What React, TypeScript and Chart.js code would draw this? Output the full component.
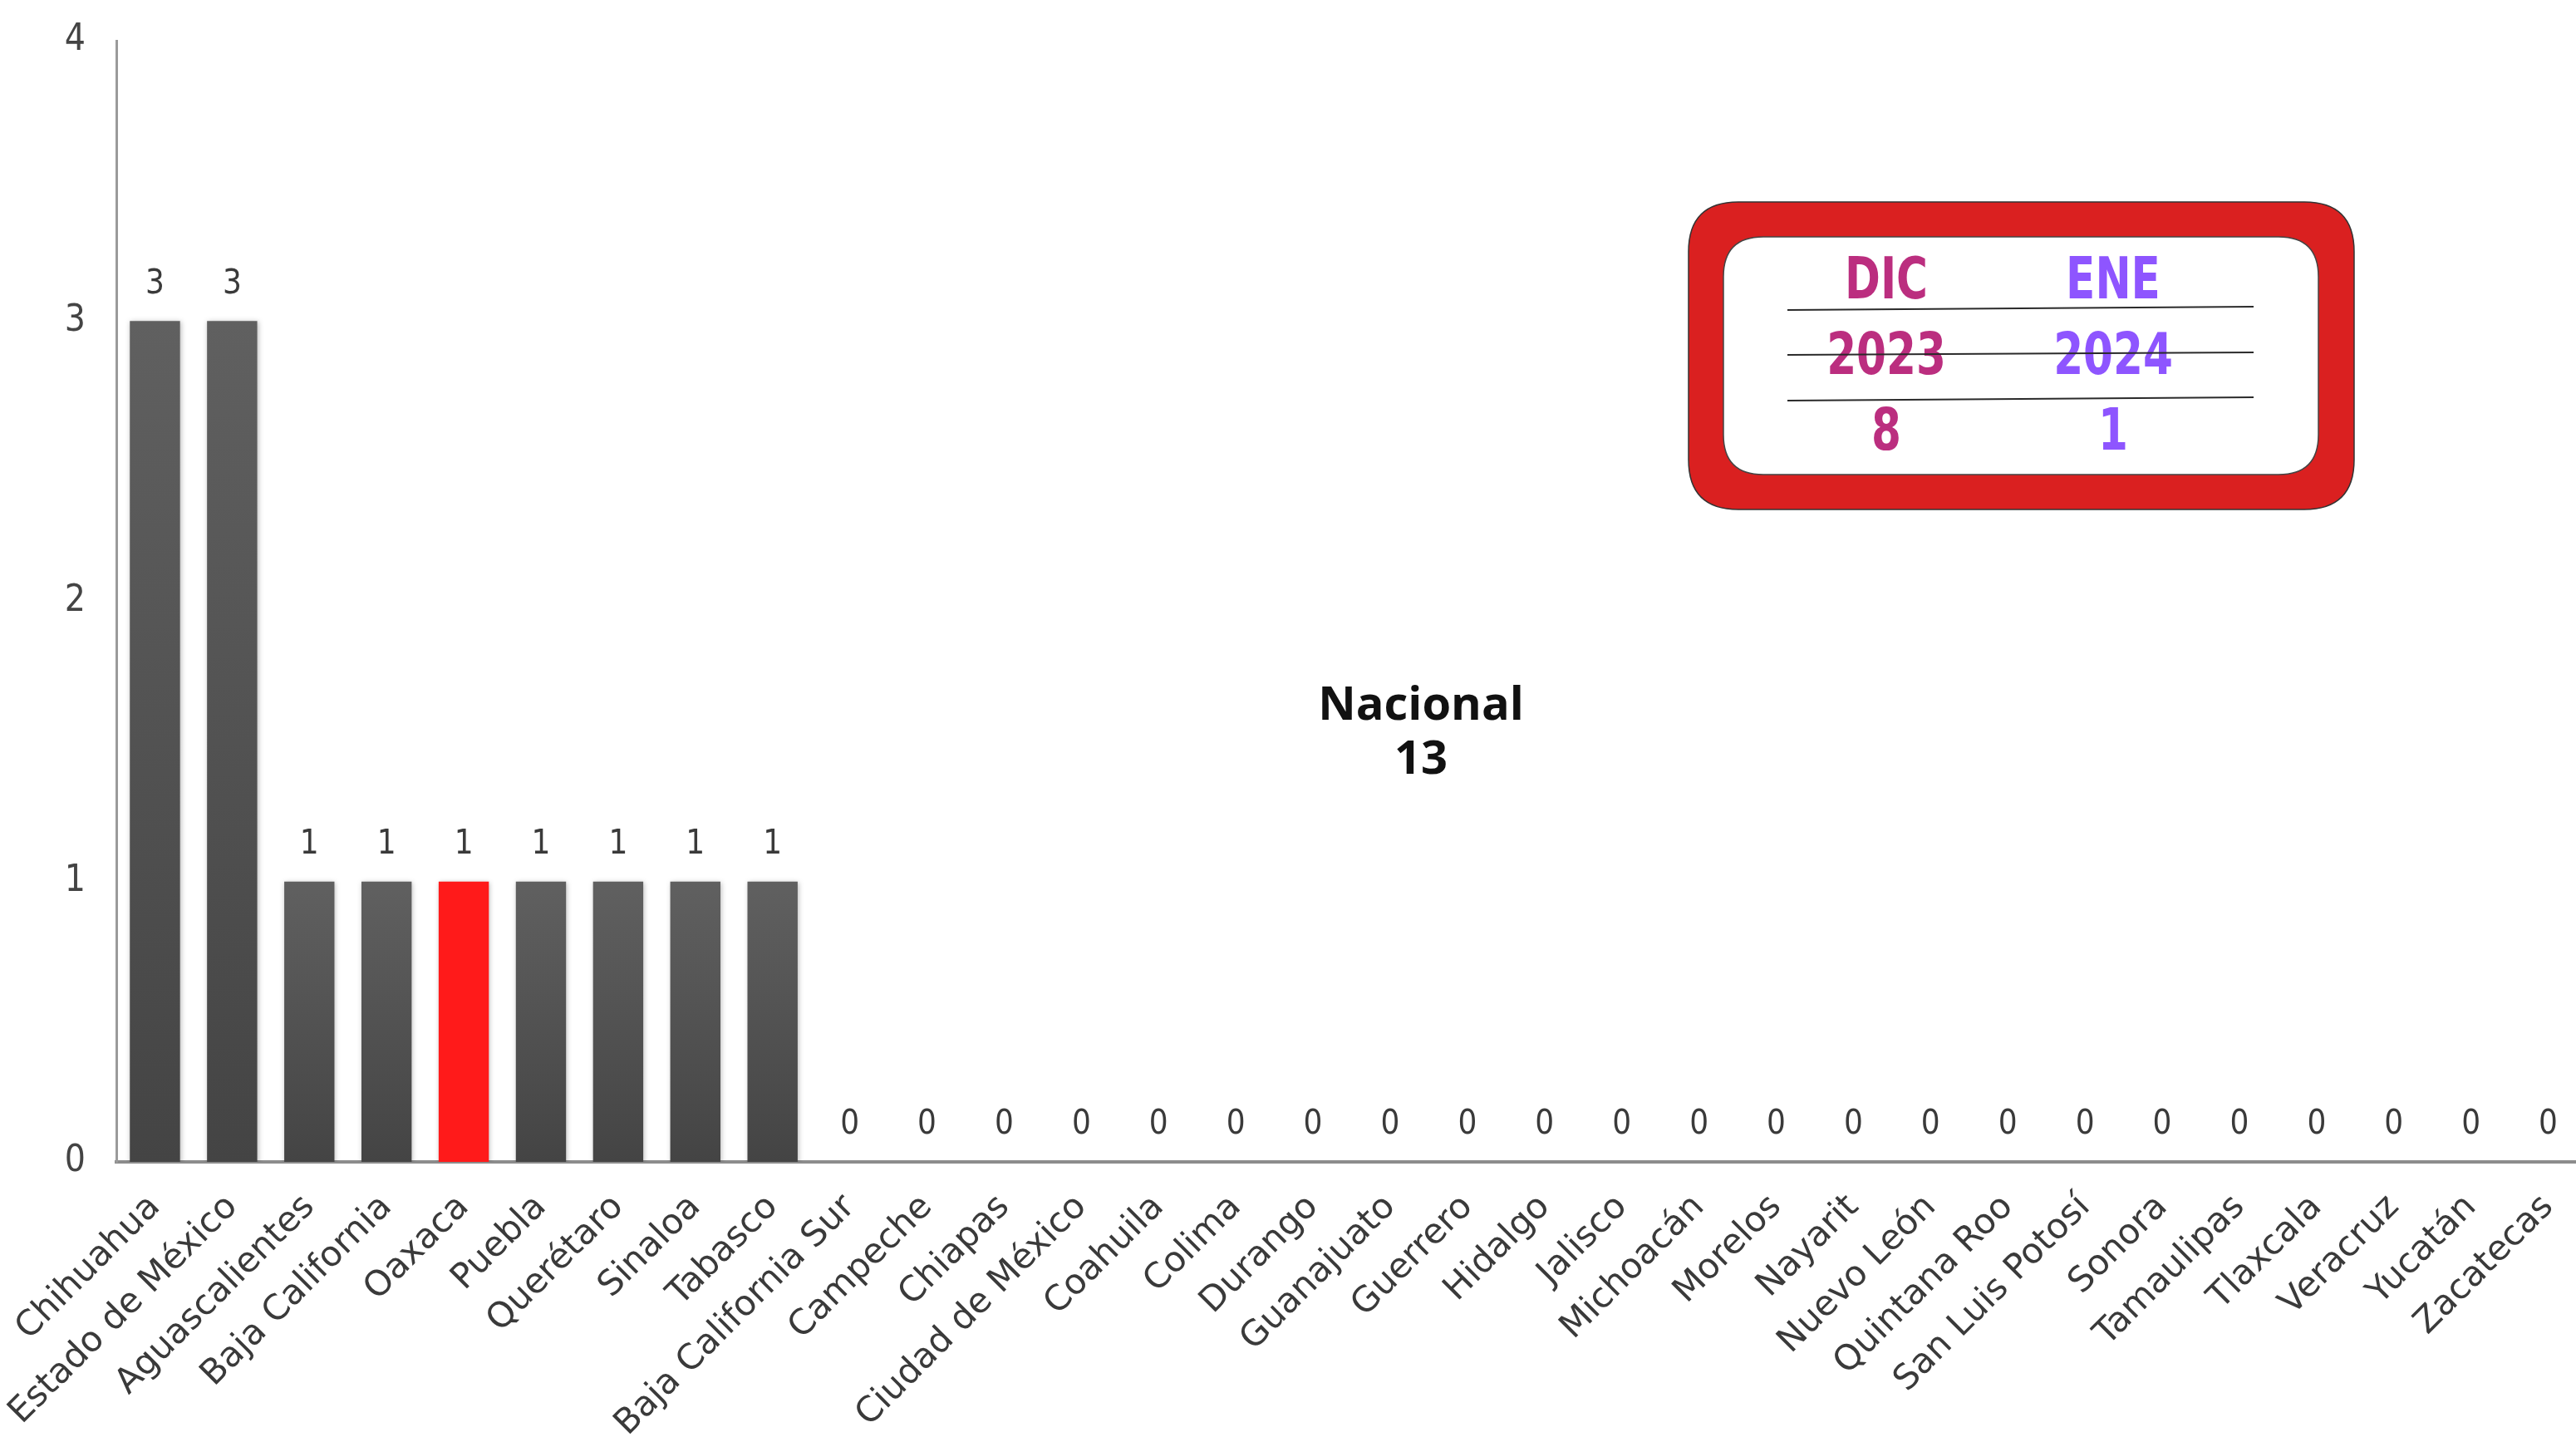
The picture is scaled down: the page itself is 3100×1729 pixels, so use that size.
import React, { useEffect, useRef } from "react";
import { Chart, registerables } from "chart.js";

Chart.register(...registerables);

// ---------- data ----------
const categories: string[] = [
  "Chihuahua",
  "Estado de México",
  "Aguascalientes",
  "Baja California",
  "Oaxaca",
  "Puebla",
  "Querétaro",
  "Sinaloa",
  "Tabasco",
  "Baja California Sur",
  "Campeche",
  "Chiapas",
  "Ciudad de México",
  "Coahuila",
  "Colima",
  "Durango",
  "Guanajuato",
  "Guerrero",
  "Hidalgo",
  "Jalisco",
  "Michoacán",
  "Morelos",
  "Nayarit",
  "Nuevo León",
  "Quintana Roo",
  "San Luis Potosí",
  "Sonora",
  "Tamaulipas",
  "Tlaxcala",
  "Veracruz",
  "Yucatán",
  "Zacatecas",
];

const values: number[] = [
  3, 3, 1, 1, 1, 1, 1, 1, 1,
  0, 0, 0, 0, 0, 0, 0, 0, 0, 0, 0, 0, 0, 0, 0, 0, 0, 0, 0, 0, 0, 0, 0,
];

const highlighted = "Oaxaca";

const yMin = 0;
const yMax = 4;
const yStep = 1;

const nationalLabel = "Nacional";
const nationalTotal = "13";

const summaryMonths: string[] = ["DIC", "ENE"];
const summaryYears: string[] = ["2023", "2024"];
const summaryCounts: string[] = ["8", "1"];

// ---------- styles ----------
const CANVAS_W = 3116;
const CANVAS_H = 1729;
const AXIS_FONT = "'DejaVu Sans Condensed', 'Liberation Sans Narrow', sans-serif";
const LABEL_FONT = "'DejaVu Sans', sans-serif";
const BOX_FONT = "'DejaVu Sans Condensed', 'DejaVu Sans', sans-serif";
const SUMMARY_COLORS = ["#BB2E7F", "#8E55FF"];

function barFill(ctx: any) {
  const chart = ctx.chart;
  const label = chart.data.labels[ctx.dataIndex];
  if (label === highlighted) return "#FF1A1A";
  const ys = chart.scales && chart.scales.y;
  const v = ctx.raw as number;
  if (!ys || !v) return "#505050";
  const top = ys.getPixelForValue(v);
  const bottom = ys.getPixelForValue(0);
  if (!isFinite(top) || !isFinite(bottom) || top === bottom) return "#505050";
  const g = chart.ctx.createLinearGradient(0, top, 0, bottom);
  g.addColorStop(0, "#606060");
  g.addColorStop(1, "#444444");
  return g;
}

const barDecor = {
  id: "barDecor",
  beforeDatasetsDraw(chart: any) {
    const c = chart.ctx;
    c.save();
    c.shadowColor = "rgba(0,0,0,0.28)";
    c.shadowBlur = 6;
    c.shadowOffsetX = 1;
    c.shadowOffsetY = 1;
  },
  afterDatasetsDraw(chart: any) {
    const c = chart.ctx;
    c.restore();
    const meta = chart.getDatasetMeta(0);
    const data = chart.data.datasets[0].data as number[];
    c.save();
    c.fillStyle = "#3a3a3a";
    c.font = `40px ${AXIS_FONT}`;
    c.textAlign = "center";
    c.textBaseline = "middle";
    meta.data.forEach((el: any, i: number) => {
      c.fillText(String(data[i]), el.x, el.y - 44);
    });
    c.restore();
  },
};

function rr(c: CanvasRenderingContext2D, x: number, y: number, w: number, h: number, r: number) {
  c.beginPath();
  c.moveTo(x + r, y);
  c.lineTo(x + w - r, y);
  c.quadraticCurveTo(x + w, y, x + w, y + r);
  c.lineTo(x + w, y + h - r);
  c.quadraticCurveTo(x + w, y + h, x + w - r, y + h);
  c.lineTo(x + r, y + h);
  c.quadraticCurveTo(x, y + h, x, y + h - r);
  c.lineTo(x, y + r);
  c.quadraticCurveTo(x, y, x + r, y);
  c.closePath();
}

const overlays = {
  id: "overlays",
  afterDraw(chart: any) {
    const c: CanvasRenderingContext2D = chart.ctx;
    c.save();
    // National total
    c.fillStyle = "#111111";
    c.textAlign = "center";
    c.textBaseline = "middle";
    c.font = `bold 56px 'Open Sans', 'DejaVu Sans', sans-serif`;
    c.fillText(nationalLabel, 1710, 850);
    c.fillText(nationalTotal, 1710, 915);

    // Summary box
    rr(c, 2032, 243, 801, 370, 60);
    c.fillStyle = "#DA2020";
    c.fill();
    c.lineWidth = 1.5;
    c.strokeStyle = "#333333";
    c.stroke();
    rr(c, 2074, 285, 716, 286, 48);
    c.fillStyle = "#FFFFFF";
    c.fill();
    c.strokeStyle = "#444444";
    c.stroke();

    const colX = [2270, 2543];
    const rowY = [332, 423, 514];
    const rows = [summaryMonths, summaryYears, summaryCounts];
    c.font = `bold 70px ${BOX_FONT}`;
    c.textAlign = "center";
    c.textBaseline = "alphabetic";
    const sx = 0.82;
    const sy = 0.98;
    rows.forEach((row, r) => {
      row.forEach((txt, k) => {
        c.save();
        c.translate(colX[k], rowY[r] + 27);
        c.scale(sx, sy);
        c.fillStyle = SUMMARY_COLORS[k];
        c.fillText(txt, 0, 0);
        c.restore();
      });
    });

    c.strokeStyle = "#2a2a2a";
    c.lineWidth = 2;
    const lines = [
      [373, 369],
      [427, 424],
      [482, 478],
    ];
    lines.forEach(([yl, yr]) => {
      c.beginPath();
      c.moveTo(2151, yl);
      c.lineTo(2712, yr);
      c.stroke();
    });
    c.restore();
  },
};

export default function App() {
  const ref = useRef<HTMLCanvasElement | null>(null);

  useEffect(() => {
    const canvas = ref.current;
    if (!canvas) return;
    const chart = new Chart(canvas, {
      type: "bar",
      data: {
        labels: categories,
        datasets: [
          {
            data: values,
            backgroundColor: barFill as any,
            borderWidth: 0,
            barPercentage: 0.65,
            categoryPercentage: 1,
          },
        ],
      },
      options: {
        responsive: false,
        animation: false,
        devicePixelRatio: 1,
        layout: { padding: { top: 49, right: 3, left: 0, bottom: 0 } },
        plugins: {
          legend: { display: false },
          tooltip: { enabled: false },
          title: { display: false },
        },
        scales: {
          x: {
            grid: { display: false, drawTicks: false },
            border: { display: true, color: "#8c8c8c", width: 4 },
            ticks: {
              autoSkip: false,
              maxRotation: 45,
              minRotation: 45,
              padding: 30,
              color: "#3a3a3a",
              font: { family: LABEL_FONT, size: 42 },
            },
            afterFit: (s: any) => {
              s.height = CANVAS_H - 1398;
              s.paddingLeft = 0;
              s.paddingRight = 0;
            },
          },
          y: {
            min: yMin,
            max: yMax,
            ticks: {
              stepSize: yStep,
              padding: 37,
              color: "#444444",
              font: { family: AXIS_FONT, size: 44 },
            },
            grid: { display: false, drawTicks: false },
            border: { display: true, color: "#9a9a9a", width: 3 },
            afterFit: (s: any) => {
              s.width = 140;
              s.paddingTop = 0;
              s.paddingBottom = 0;
            },
          },
        },
      },
      plugins: [barDecor, overlays],
    });
    return () => chart.destroy();
  }, []);

  return (
    <div
      style={{
        position: "absolute",
        left: 0,
        top: 0,
        width: 3100,
        height: 1729,
        overflow: "hidden",
        background: "#ffffff",
      }}
    >
      <canvas
        ref={ref}
        width={CANVAS_W}
        height={CANVAS_H}
        style={{ display: "block", width: CANVAS_W, height: CANVAS_H }}
      />
    </div>
  );
}
